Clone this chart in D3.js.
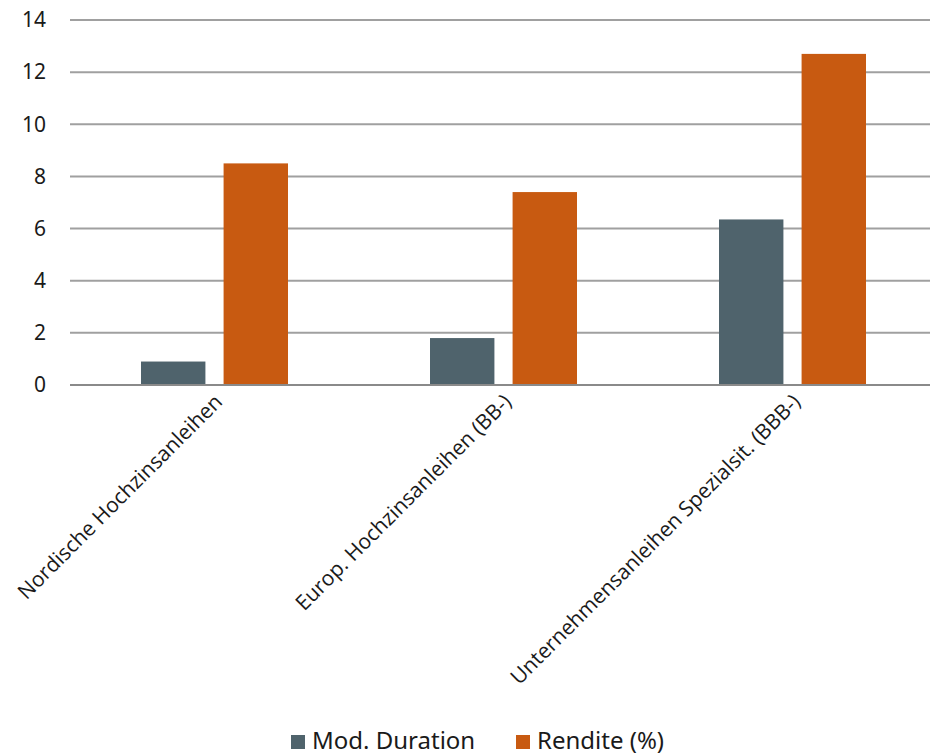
<!DOCTYPE html>
<html><head><meta charset="utf-8">
<script src="https://cdn.jsdelivr.net/npm/d3@7"></script>
<style>
html,body{margin:0;padding:0;background:#fff;}
svg{display:block;}
</style></head>
<body>
<script>
const categories = ["Nordische Hochzinsanleihen", "Europ. Hochzinsanleihen (BB-)", "Unternehmensanleihen Spezialsit. (BBB-)"];
const seriesNames = ["Mod. Duration", "Rendite (%)"];
const modDuration = [0.9, 1.8, 6.35];
const rendite = [8.5, 7.4, 12.7];
const yTicks = [0, 2, 4, 6, 8, 10, 12, 14];
const colors = ["#4f636c", "#c85a11"];

const W = 930, H = 755;
const svg = d3.select("body").append("svg").attr("width", W).attr("height", H);

const x0 = d3.scaleBand().domain(categories).range([70, 937]).paddingInner(0).paddingOuter(0);
const x1 = d3.scaleBand().domain(seriesNames).range([0, 147]).paddingInner(0.22);
const y = d3.scaleLinear().domain([0, 14]).range([385, 20]);

// gridlines
svg.append("g").selectAll("line").data(yTicks).join("line")
  .attr("x1", 70).attr("x2", 930)
  .attr("y1", d => y(d)).attr("y2", d => y(d))
  .attr("stroke", "#a0a0a0").attr("stroke-width", 2);

// y axis labels
const yAxis = d3.axisLeft(y).tickValues(yTicks).tickSize(0).tickPadding(0).tickFormat(d3.format("d"));
const gy = svg.append("g").attr("transform", "translate(46,0)").call(yAxis);
gy.select(".domain").remove();
gy.selectAll("text").attr("font-family", "'Noto Sans', sans-serif").attr("font-size", 21).attr("fill", "#1a1a1a");

// bars
const data = categories.map((c, i) => ({cat: c, vals: [modDuration[i], rendite[i]]}));
const groups = svg.append("g").selectAll("g").data(data).join("g")
  .attr("transform", d => `translate(${x0(d.cat) + (x0.bandwidth() - 147) / 2},0)`);
groups.selectAll("rect").data(d => d.vals.map((v, j) => ({s: seriesNames[j], v, j}))).join("rect")
  .attr("x", d => x1(d.s)).attr("width", x1.bandwidth())
  .attr("y", d => y(d.v)).attr("height", d => y(0) - y(d.v))
  .attr("fill", d => colors[d.j]);

// baseline
svg.append("line").attr("x1", 70).attr("x2", 930).attr("y1", y(0)).attr("y2", y(0))
  .attr("stroke", "#8a8a8a").attr("stroke-width", 2);

// x labels
const xAxis = d3.axisBottom(x0).tickSize(0).tickPadding(0);
const gx = svg.append("g").attr("transform", "translate(0,398)").call(xAxis);
gx.select(".domain").remove();
gx.selectAll("text")
  .attr("font-family", "'Open Sans', sans-serif").attr("font-size", 21).attr("fill", "#1a1a1a")
  .attr("text-anchor", "end").attr("dy", "0.35em").attr("y", 0)
  .attr("transform", "translate(4,0) rotate(-45)");

// legend
const legend = svg.append("g");
const legendX = [291, 516];
seriesNames.forEach((s, i) => {
  legend.append("rect").attr("x", legendX[i]).attr("y", 735).attr("width", 14).attr("height", 14).attr("fill", colors[i]);
  legend.append("text").attr("x", legendX[i] + 21).attr("y", 749)
    .attr("font-family", "'Noto Sans', sans-serif").attr("font-size", 24).attr("fill", "#1a1a1a").text(s);
});
</script>
</body></html>
